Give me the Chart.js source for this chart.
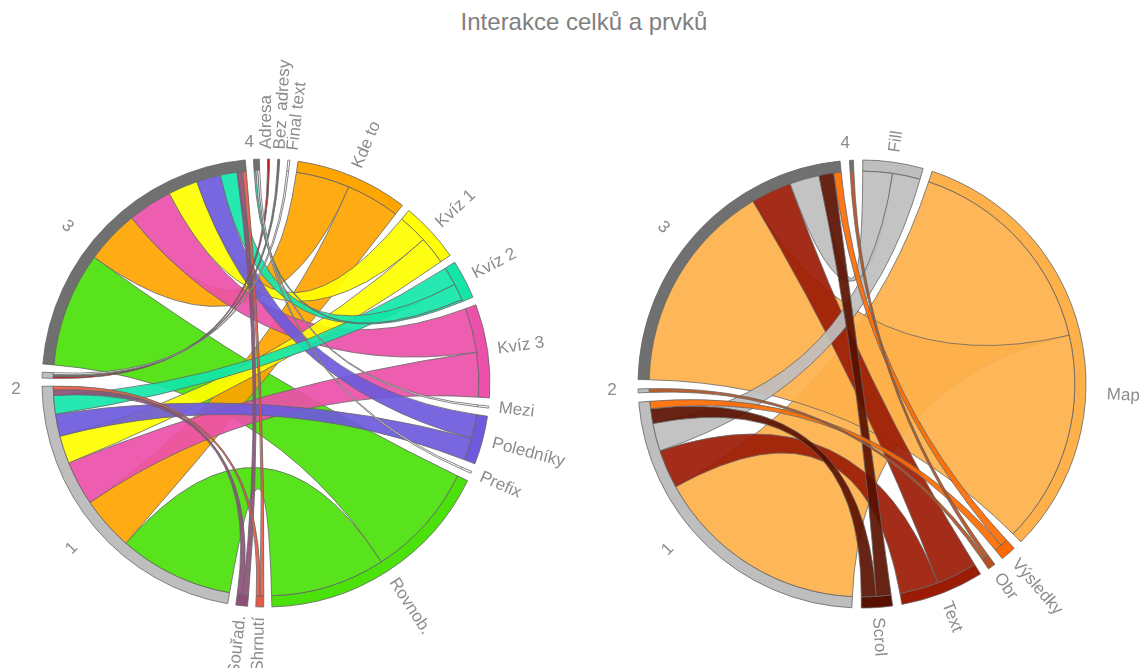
<!DOCTYPE html>
<html lang="cs">
<head>
<meta charset="UTF-8">
<title>Interakce celků a prvků</title>
<style>
  body { margin: 0; background: #fff; font-family: "Liberation Sans", Arial, sans-serif; }
  #wrap { position: relative; width: 1144px; height: 668px; overflow: hidden; }
  h1 { position: absolute; top: 8px; left: 12px; width: 1144px; margin: 0; text-align: center;
       font-weight: normal; font-size: 24px; line-height: 28px; color: #808080; }
  canvas { position: absolute; top: 0; }
</style>
<script src="https://cdn.jsdelivr.net/npm/chart.js"></script>
</head>
<body>
<div id="wrap">
  <h1>Interakce celků a prvků</h1>
  <canvas id="leftChord" width="572" height="668" style="left:0"></canvas>
  <canvas id="rightChord" width="572" height="668" style="left:572px"></canvas>
</div>
<script>
// celky (stejné pro oba grafy)
const GROUPS = ['1', '2', '3', '4'];
const GROUP_COLORS = ['#bebebe', '#bebebe', '#707070', '#707070'];
// popisky celků: úhel (od vrcholu, po směru hodin), odstup od kruhu, natočení
const GROUP_LABEL_ANGLE = [229.6, 268.5, 308.3, 356];
const GROUP_LABEL_DIST = [31, 26, 29, 17];
const GROUP_LABEL_ROT = [-45, 0, 45, 0];

// levý graf - prvky a počty vazeb z každého celku
const leftCategories = ['Adresa', 'Bez  adresy', 'Final text', 'Kde to', 'Kvíz 1', 'Kvíz 2', 'Kvíz 3',
                        'Mezi', 'Poledníky', 'Prefix', 'Rovnob.', 'Shrnutí', 'Souřad.'];
const leftColors = ['#c01010', '#5d725d', '#ffffff', '#ffa500', '#ffff00', '#14e6aa', '#eb50aa',
                    '#ffffff', '#6e5adc', '#ffffff', '#4be10a', '#e65a46', '#8c5078'];
const leftGroup1 = [0, 0, 0, 29, 15, 10, 24, 0, 12, 0, 62, 2, 3];
const leftGroup2 = [1, 1, 1, 0, 0, 0, 0, 0, 0, 0, 0, 0, 0];
const leftGroup3 = [0, 0, 0, 29, 16, 9, 24, 0, 13, 0, 62, 2, 3];
const leftGroup4 = [0, 0, 0, 0, 0, 1, 0, 1, 0, 1, 0, 0, 0];

// pravý graf
const rightCategories = ['Fill', 'Map', 'Výsledky', 'Obr', 'Text', 'Scrol'];
const rightColors = ['#bebebe', '#feb14a', '#ff6a00', '#b4501e', '#9b1b05', '#5a1000'];
const rightGroup1 = [15, 116, 4, 0, 21, 8];
const rightGroup2 = [0, 0, 0, 2, 0, 0];
const rightGroup3 = [16, 115, 4, 0, 22, 8];
const rightGroup4 = [0, 0, 0, 2, 0, 0];

function hexToRgba(hex, a) {
    const n = parseInt(hex.slice(1), 16);
    return `rgba(${n >> 16}, ${(n >> 8) & 255}, ${n & 255}, ${a})`;
}

function drawChord(canvasId, cats, catColors, rows, cfg) {
    const names = cats.concat(GROUPS);
    const colors = catColors.concat(GROUP_COLORS);
    const catTotals = cats.map((_, c) => rows.reduce((s, r) => s + r[c], 0));
    const groupTotals = rows.map(r => r.reduce((s, v) => s + v, 0));
    const totals = catTotals.concat(groupTotals);
    const sum = totals.reduce((s, v) => s + v, 0);
    const gap = sum * cfg.gap / (360 - names.length * cfg.gap);

    // segmenty prokládané mezerami
    const data = [], bg = [], bw = [], labels = [];
    totals.forEach((v, i) => {
        data.push(v, gap);
        bg.push(colors[i], 'rgba(0,0,0,0)');
        bw.push(0.8, 0);
        labels.push(names[i], '');
    });

    const links = [];
    rows.forEach((r, g) => r.forEach((v, c) => { if (v > 0) links.push({ g, c, v }); }));

    const chordPlugin = {
        id: 'chord',
        afterDatasetsDraw(chart) {
            const arcs = chart.getDatasetMeta(0).data;
            const ctx = chart.ctx;
            const cx = arcs[0].x, cy = arcs[0].y, r = arcs[0].innerRadius;
            const place = (segIdx, list, key) => {
                const a = arcs[segIdx * 2];
                const per = (a.endAngle - a.startAngle) / totals[segIdx];
                let pos = a.startAngle;
                list.forEach(l => { l[key] = [pos, pos + l.v * per]; pos += l.v * per; });
            };
            // v celku i v prvku řazeno od největší vazby
            rows.forEach((_, g) => place(cats.length + g,
                links.filter(l => l.g === g).sort((a, b) => b.v - a.v || a.c - b.c), 'ga'));
            cats.forEach((_, c) => place(c,
                links.filter(l => l.c === c).sort((a, b) => b.v - a.v || b.g - a.g), 'ca'));

            const pt = a => [cx + r * Math.cos(a), cy + r * Math.sin(a)];
            ctx.save();
            ctx.lineWidth = 0.8;
            ctx.strokeStyle = '#666';
            links.slice().sort((a, b) => b.v - a.v).forEach(l => {
                const [s0, s1] = l.ca, [t0, t1] = l.ga;
                ctx.beginPath();
                ctx.moveTo(...pt(s0));
                ctx.arc(cx, cy, r, s0, s1);
                ctx.quadraticCurveTo(cx, cy, ...pt(t0));
                ctx.arc(cx, cy, r, t0, t1);
                ctx.quadraticCurveTo(cx, cy, ...pt(s0));
                ctx.closePath();
                ctx.fillStyle = hexToRgba(catColors[l.c], 0.92);
                ctx.fill();
                ctx.stroke();
            });
            ctx.restore();
        },
        afterDraw(chart) {
            const arcs = chart.getDatasetMeta(0).data;
            const ctx = chart.ctx;
            const cx = arcs[0].x, cy = arcs[0].y, R = arcs[0].outerRadius;
            const rad = d => (d - 90) * Math.PI / 180;
            ctx.save();
            ctx.fillStyle = '#8c8c8c';
            ctx.font = '17px "Liberation Sans", Arial, sans-serif';
            ctx.textBaseline = 'middle';
            names.forEach((name, i) => {
                const a = arcs[i * 2];
                const gi = i - cats.length;
                let mid = (a.startAngle + a.endAngle) / 2;
                let dist = R + (cfg.labelDist[name] || 10);
                if (gi >= 0) {
                    mid = rad(GROUP_LABEL_ANGLE[gi]);
                    dist = R + GROUP_LABEL_DIST[gi];
                } else if (cfg.labelAngle[name] !== undefined) {
                    mid = rad(cfg.labelAngle[name]);
                }
                const deg = ((mid * 180 / Math.PI + 90) % 360 + 360) % 360;
                ctx.save();
                ctx.translate(cx + dist * Math.cos(mid), cy + dist * Math.sin(mid));
                if (gi >= 0) {
                    ctx.rotate(GROUP_LABEL_ROT[gi] * Math.PI / 180);
                    ctx.textAlign = 'center';
                } else if (deg < 180) {
                    ctx.rotate(mid);
                    ctx.textAlign = 'left';
                } else {
                    ctx.rotate(mid + Math.PI);
                    ctx.textAlign = 'right';
                }
                ctx.fillText(name, 0, 0);
                ctx.restore();
            });
            ctx.restore();
        }
    };

    new Chart(document.getElementById(canvasId).getContext('2d'), {
        type: 'doughnut',
        data: {
            labels: labels,
            datasets: [{
                data: data,
                backgroundColor: bg,
                borderColor: '#666',
                borderWidth: bw,
                borderJoinStyle: 'miter'
            }]
        },
        options: {
            responsive: false,
            animation: false,
            events: [],
            rotation: cfg.rotation,
            radius: 224,
            cutout: '95%',
            layout: { padding: cfg.padding },
            plugins: { legend: { display: false }, tooltip: { enabled: false } }
        },
        plugins: [chordPlugin]
    });
}

drawChord('leftChord', leftCategories, leftColors,
    [leftGroup1, leftGroup2, leftGroup3, leftGroup4],
    { gap: 2.1, rotation: 0.4, padding: { left: 42, right: 82, top: 159, bottom: 61 },
      labelAngle: { 'Adresa': 0.05, 'Bez  adresy': 3.4, 'Final text': 6.6 }, labelDist: {} });

drawChord('rightChord', rightCategories, rightColors,
    [rightGroup1, rightGroup2, rightGroup3, rightGroup4],
    { gap: 2.4, rotation: 0.2, padding: { left: 66, right: 58, top: 160, bottom: 60 },
      labelAngle: { Map: 92.5 }, labelDist: { Map: 21 } });
</script>
</body>
</html>
